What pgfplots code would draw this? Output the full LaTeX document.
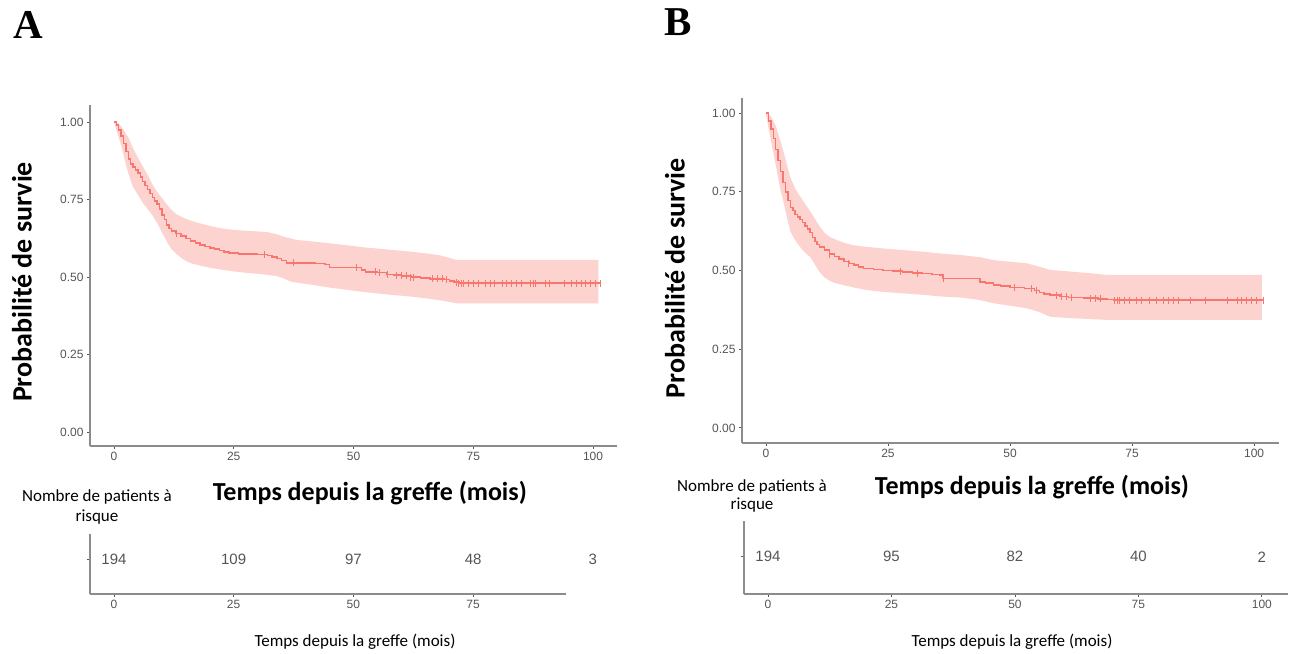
\documentclass[border=0pt]{standalone}
\usepackage{fontspec}
\setmainfont{Liberation Sans}
\newfontfamily\calibri{Carlito}
\newfontfamily\timesf{Liberation Serif}
\usepackage{pgfplots}
\pgfplotsset{compat=1.18}
\usepgfplotslibrary{fillbetween}
\definecolor{kmred}{HTML}{F8766D}
\definecolor{axgray}{HTML}{8C8C8C}
\definecolor{lblgray}{HTML}{555555}
\pgfplotsset{
  kmaxis/.style={
    scale only axis, anchor=south west,
    axis x line=bottom, axis y line=left,
    axis line style={-, draw=axgray, line width=1.5pt},
    tick align=outside, major tick length=3pt,
    tick style={draw=lblgray, line width=0.8pt},
    ticklabel style={font=\fontsize{12}{14}\selectfont, text=lblgray},
    /pgf/number format/assume math mode=true,
    clip=false,
  },
  kmmain/.style={
    kmaxis,
    xtick={0,25,50,75,100},
    ytick={0,0.25,0.5,0.75,1},
    yticklabels={0.00,0.25,0.50,0.75,1.00},
    xlabel={Temps depuis la greffe (mois)},
    ylabel={Probabilité de survie},
    xlabel style={anchor=center, font=\calibri\bfseries\fontsize{26}{28}\selectfont},
    ylabel style={anchor=center, rotate=0, font=\calibri\bfseries\fontsize{28}{30}\selectfont},
  },
  kmrisk/.style={
    kmaxis, ymin=0, ymax=1,
    yticklabels={},
  },
  kmline/.style={kmred, line width=1.5pt, const plot},
  kmcens/.style={kmred, only marks, mark=|, mark size=3.5pt, mark options={line width=1pt}},
  kmband/.style={draw=none},
  riskn/.style={only marks, mark=*, mark size=0pt, mark options={draw=none, fill=none},
    nodes near coords, point meta=explicit symbolic,
    nodes near coords style={anchor=center, font=\fontsize{15}{17}\selectfont, text=lblgray}},
}
\begin{document}
\begin{tikzpicture}

% ---------------- Panel A ----------------
\node[anchor=base west, inner sep=0pt, font=\timesf\bfseries\fontsize{41}{41}\selectfont] at (13pt,614pt) {A};
\begin{axis}[kmmain, at={(90pt,207pt)}, width=527pt, height=341pt,
  xmin=-5, xmax=105, ymin=-0.045, ymax=1.055,
  xlabel style={at={(axis description cs:0.531,-0.138)}},
  ylabel style={at={(axis description cs:-0.129,0.481)}}]
\addplot[kmband, name path=upA] coordinates {
(0,1.000) (1,0.995) (2,0.975) (3,0.950) (4,0.915) (5,0.885) (6,0.858) (7,0.830)
(8,0.800) (9,0.775) (10,0.755) (11,0.735) (12,0.717) (13,0.703) (14,0.695)
(15,0.688) (16,0.682) (18,0.673) (20,0.665) (22,0.658) (25,0.652) (28,0.649)
(32,0.645) (34,0.638) (35.5,0.630) (38,0.620) (40,0.617) (45,0.609) (50,0.600)
(52,0.596) (55,0.592) (58.3,0.587) (62,0.582) (65.3,0.576) (68,0.570) (70,0.562)
(71.5,0.555) (101.1,0.555)};
\addplot[kmband, name path=loA] coordinates {
(0,1.000) (0.5,0.975) (1,0.950) (1.5,0.925) (2,0.895) (2.5,0.862) (3,0.835)
(3.5,0.810) (4,0.790) (5,0.765) (6,0.740) (7,0.720) (8,0.700) (9,0.675)
(10,0.645) (11,0.615) (12,0.590) (13,0.575) (14,0.562) (15,0.552) (16,0.545)
(18,0.537) (20,0.530) (22,0.525) (25,0.518) (28,0.513) (31,0.509) (34,0.503)
(35.5,0.495) (37,0.485) (40,0.478) (45,0.466) (50,0.456) (52,0.452) (55,0.447)
(58.3,0.442) (62,0.437) (65.3,0.431) (68,0.425) (70,0.420) (71.5,0.415) (101.1,0.415)};
\addplot[fill=kmred, fill opacity=0.32, draw=none] fill between[of=upA and loA];
\addplot[kmline] coordinates {
(0,1.000) (0.5,0.990) (1,0.975) (1.5,0.955) (2,0.930) (2.5,0.905) (3,0.880)
(3.5,0.865) (4,0.855) (4.5,0.845) (5,0.835) (5.5,0.822) (6,0.808) (6.5,0.795)
(7,0.782) (7.5,0.770) (8,0.757) (8.5,0.745) (9,0.735) (9.5,0.720) (10,0.700)
(10.5,0.685) (11,0.668) (11.5,0.656) (12,0.648) (13,0.640) (14,0.632) (15,0.625)
(16,0.617) (17,0.610) (18,0.604) (19,0.598) (20,0.594) (21,0.590) (22,0.585)
(23,0.580) (24,0.577) (26,0.575) (28,0.574) (30,0.573) (32,0.570) (33,0.565)
(34,0.560) (35,0.553) (36,0.546) (42,0.543) (44,0.540) (45,0.531) (51,0.531)
(51.7,0.522) (52.5,0.517) (55,0.514) (57,0.509) (58.3,0.506) (60,0.504)
(62,0.500) (64,0.497) (66,0.494) (69,0.492) (70,0.488) (71,0.484) (72,0.480)
(101.5,0.480)};
\addplot[kmcens] coordinates {
(13,0.640) (31.5,0.573) (37.5,0.546) (50.7,0.531) (54.5,0.517) (55.5,0.514)
(57,0.509) (59,0.506) (60,0.504) (61,0.504) (62,0.500) (62.5,0.500) (66.5,0.494)
(67.5,0.494) (68.5,0.494) (69.5,0.492) (71.5,0.484) (72,0.480) (72.5,0.480)
(73,0.480) (74,0.480) (75,0.480) (76,0.480) (77.5,0.480) (78.5,0.480) (79.5,0.480)
(81,0.480) (82,0.480) (83,0.480) (84,0.480) (85,0.480) (87,0.480) (87.5,0.480)
(88,0.480) (90,0.480) (91,0.480) (94,0.480) (95.5,0.480) (96.5,0.480) (97.5,0.480)
(98.5,0.480) (99.5,0.480) (100.5,0.480) (101.5,0.480)};
\end{axis}
\node[align=center, font=\calibri\fontsize{17}{20.5}\selectfont] at (97pt,146pt) {Nombre de patients à\\risque};
\begin{axis}[kmrisk, at={(90pt,59pt)}, width=476pt, height=60pt,
  xmin=-5, xmax=94.4, xtick={0,25,50,75}, ytick={0.58}]
\addplot[riskn] coordinates {(0,0.58)[194] (25,0.58)[109] (50,0.58)[97] (75,0.58)[48] (100,0.58)[3]};
\end{axis}
\node[font=\calibri\fontsize{17}{20}\selectfont] at (355pt,11pt) {Temps depuis la greffe (mois)};

% ---------------- Panel B ----------------
\node[anchor=base west, inner sep=0pt, font=\timesf\bfseries\fontsize{41}{41}\selectfont] at (664pt,617pt) {B};
\begin{axis}[kmmain, at={(742pt,210pt)}, width=537pt, height=345pt,
  xmin=-4.9, xmax=105.1, ymin=-0.048, ymax=1.048,
  xlabel style={at={(axis description cs:0.54,-0.1275)}},
  ylabel style={at={(axis description cs:-0.125,0.478)}}]
\addplot[kmband, name path=upB] coordinates {
(0,1.000) (1,0.990) (2,0.960) (3,0.910) (4,0.855) (4.9,0.800) (6,0.760) (7,0.735)
(8,0.712) (9,0.690) (10,0.665) (11,0.640) (12,0.620) (13,0.607) (14.5,0.597)
(16,0.588) (18,0.580) (20,0.576) (24,0.570) (28,0.565) (32,0.560) (35.7,0.554)
(40,0.549) (44,0.542) (46.6,0.533) (50,0.528) (53.4,0.523) (56,0.512) (58.2,0.502)
(62,0.497) (66,0.492) (69.8,0.486) (101.6,0.486)};
\addplot[kmband, name path=loB] coordinates {
(0,1.000) (0.5,0.955) (1,0.915) (1.5,0.875) (2,0.835) (2.5,0.795) (3,0.755)
(3.5,0.724) (4,0.690) (4.5,0.655) (5,0.625) (5.6,0.607) (6.5,0.585) (7.5,0.565)
(8.5,0.550) (9,0.544) (10,0.520) (11,0.495) (12,0.478) (13,0.468) (14,0.461)
(15.8,0.454) (18,0.446) (20.6,0.438) (24,0.432) (27.5,0.428) (32,0.423)
(36.3,0.417) (40,0.414) (43.9,0.406) (46.6,0.396) (50,0.388) (53.4,0.380)
(56,0.368) (58.2,0.353) (62,0.349) (66,0.346) (69.8,0.343) (101.6,0.343)};
\addplot[fill=kmred, fill opacity=0.32, draw=none] fill between[of=upB and loB];
\addplot[kmline] coordinates {
(0,1.000) (0.5,0.975) (1,0.950) (1.5,0.920) (2,0.885) (2.5,0.850) (3,0.815)
(3.5,0.780) (4,0.750) (4.5,0.722) (5,0.700) (5.5,0.690) (6,0.678) (6.5,0.670)
(7,0.662) (7.5,0.652) (8,0.642) (8.5,0.632) (9,0.620) (9.5,0.605) (10,0.592)
(10.5,0.583) (11,0.575) (12,0.565) (13,0.552) (14,0.545) (15,0.536) (16,0.528)
(17,0.523) (18,0.517) (19,0.511) (20,0.507) (22,0.503) (24,0.500) (26,0.498)
(28,0.495) (30,0.492) (32,0.490) (34,0.488) (35.7,0.486) (36.3,0.475)
(43.9,0.464) (45,0.460) (46.6,0.454) (48,0.450) (50,0.446) (53,0.443)
(55,0.436) (56,0.430) (57,0.426) (58.2,0.422) (60.2,0.417) (62,0.414)
(65,0.412) (68,0.410) (70,0.408) (71.2,0.406) (101.9,0.406)};
\addplot[kmcens] coordinates {
(13,0.552) (17,0.523) (27.5,0.498) (31,0.492) (36.3,0.475) (51,0.446)
(54.5,0.443) (55.5,0.436) (59.5,0.422) (60.5,0.417) (61.5,0.417) (62.5,0.414)
(66.5,0.412) (67.5,0.412) (68.5,0.410) (71.5,0.406) (72,0.406) (72.5,0.406)
(73.5,0.406) (74.5,0.406) (76,0.406) (77,0.406) (78.5,0.406) (80,0.406)
(81.5,0.406) (82.5,0.406) (83.5,0.406) (84.5,0.406) (87,0.406) (90,0.406)
(94.5,0.406) (96.5,0.406) (97.5,0.406) (98.5,0.406) (99.5,0.406) (100.5,0.406)
(101.9,0.406)};
\end{axis}
\node[align=center, font=\calibri\fontsize{17}{18.5}\selectfont] at (752pt,157pt) {Nombre de patients à\\risque};
\begin{axis}[kmrisk, at={(744pt,59pt)}, width=544pt, height=73pt,
  xmin=-4.86, xmax=105.3, xtick={0,25,50,75,100}, ytick={0.51}]
\addplot[riskn] coordinates {(0,0.51)[194] (25,0.51)[95] (50,0.51)[82] (75,0.51)[40] (100,0.51)[2]};
\end{axis}
\node[font=\calibri\fontsize{17}{20}\selectfont] at (1012pt,11pt) {Temps depuis la greffe (mois)};

\pgfresetboundingbox
\useasboundingbox (0pt,0pt) rectangle (1289pt,653pt);
\end{tikzpicture}
\end{document}
